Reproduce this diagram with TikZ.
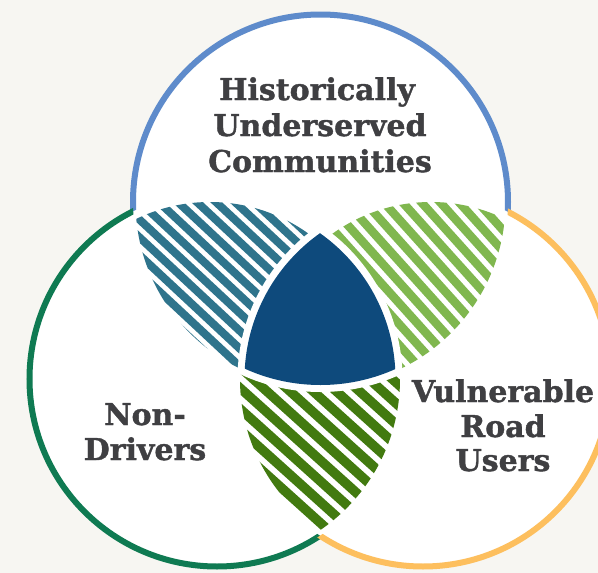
\documentclass[tikz,border=0pt]{standalone}
\usepackage{fontspec}
\setmainfont{DejaVu Serif}
\newfontfamily\lblfont{DejaVu Serif Bold}[FakeBold=1.3]
\definecolor{pagebg}{HTML}{F7F6F2}
\definecolor{ringblue}{HTML}{5E8BCB}
\definecolor{ringgreen}{HTML}{0F7A52}
\definecolor{ringorange}{HTML}{FDBF5E}
\definecolor{tealfill}{HTML}{2F748C}
\definecolor{limefill}{HTML}{80B74F}
\definecolor{olivefill}{HTML}{427A10}
\definecolor{corefill}{HTML}{0E4A7C}
\definecolor{inkgray}{HTML}{3F3F42}
\begin{document}
\begin{tikzpicture}[x=1pt,y=-1pt,
  ring/.style={line width=6pt},
  stripe/.style={line width=#1},
  lbl/.style={inner sep=0pt, anchor=base, text=inkgray,
    font=\lblfont\fontsize{30}{36}\selectfont}]
\useasboundingbox (0,0) rectangle (598,573);
\fill[pagebg] (0,0) rectangle (598,573);

% circle centres
\coordinate (T) at (320.5,202);
\coordinate (L) at (217,379);
\coordinate (R) at (423,379);

% white discs
\fill[white] (T) circle[radius=187.5];
\fill[white] (L) circle[radius=187.5];
\fill[white] (R) circle[radius=187.5];

% striped lens: top & left
\begin{scope}
  \clip (T) circle[radius=185];
  \clip (210,371) circle[radius=169];
  \begin{scope}[shift={(215,290)}, rotate=-43]
    \foreach \k in {-18,...,18}
      \draw[tealfill, stripe=8pt] (-260,\k*13) -- (260,\k*13);
  \end{scope}
\end{scope}

% striped lens: top & right
\begin{scope}
  \clip (T) circle[radius=185];
  \clip (431,371) circle[radius=169];
  \begin{scope}[shift={(425,290)}, rotate=-48]
    \foreach \k in {-18,...,18}
      \draw[limefill, stripe=8.5pt] (-260,\k*14) -- (260,\k*14);
  \end{scope}
\end{scope}

% striped lens: left & right
\begin{scope}
  \clip (L) circle[radius=183];
  \clip (R) circle[radius=183];
  \begin{scope}[shift={(320,460)}, rotate=-42]
    \foreach \k in {-18,...,18}
      \draw[olivefill, stripe=9.5pt] (-260,\k*15.5) -- (260,\k*15.5);
  \end{scope}
\end{scope}

% white margin around the centre
\begin{scope}
  \clip (T) circle[radius=190];
  \clip (L) circle[radius=185.5];
  \fill[white] (R) circle[radius=185.5];
\end{scope}

% centre where all three overlap
\begin{scope}
  \clip (T) circle[radius=183];
  \clip (L) circle[radius=178.5];
  \fill[corefill] (R) circle[radius=178.5];
\end{scope}

% outer rings, each cut where it enters the other discs
\begin{scope}[even odd rule]
  \clip (-20,-20) rectangle (640,600) (L) circle[radius=187.5];
  \clip (-20,-20) rectangle (640,600) (R) circle[radius=187.5];
  \draw[ring, ringblue] (T) circle[radius=187.5];
\end{scope}
\begin{scope}[even odd rule]
  \clip (-20,-20) rectangle (640,600) (T) circle[radius=187.5];
  \clip (-20,-20) rectangle (640,600) (R) circle[radius=187.5];
  \draw[ring, ringgreen] (L) circle[radius=187.5];
\end{scope}
\begin{scope}[even odd rule]
  \clip (-20,-20) rectangle (640,600) (T) circle[radius=187.5];
  \clip (-20,-20) rectangle (640,600) (L) circle[radius=187.5];
  \draw[ring, ringorange] (R) circle[radius=187.5];
\end{scope}

% labels
\node[lbl] (hist) at (317,100) {Historically};
\node[lbl] (under) at (320,136) {Underserved};
\node[lbl] (comm) at (320,172) {Communities};

\node[lbl] (non) at (145,425) {Non-};
\node[lbl] (drivers) at (145,460) {Drivers};

\node[lbl] (vuln) at (503,402) {Vulnerable};
\node[lbl] (road) at (503,437) {Road};
\node[lbl] (users) at (503,471) {Users};
\end{tikzpicture}
\end{document}
